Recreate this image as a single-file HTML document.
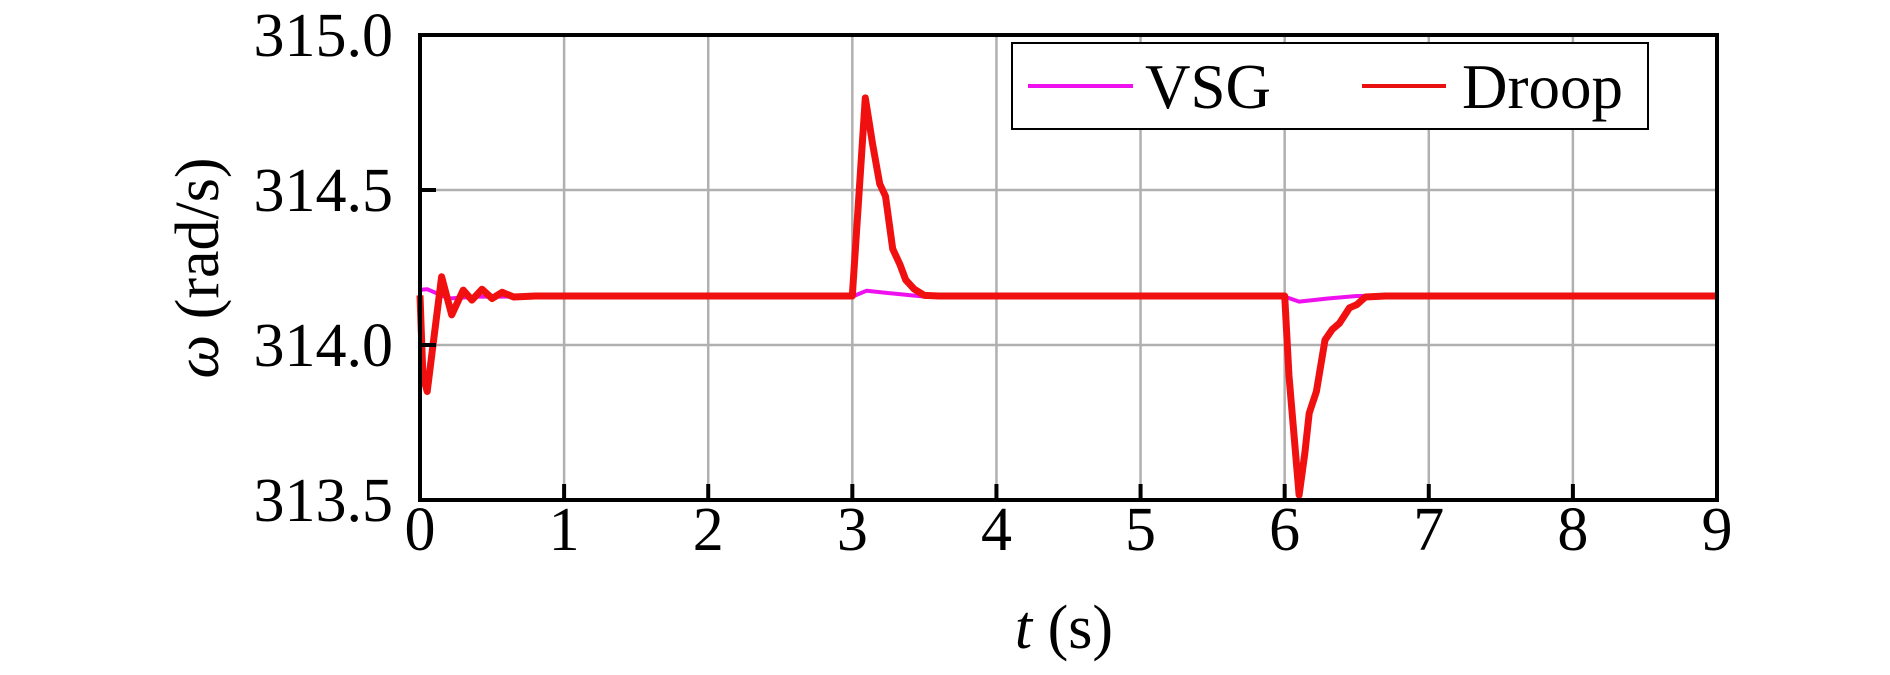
<!DOCTYPE html>
<html><head><meta charset="utf-8"><style>
html,body{margin:0;padding:0;background:#fff;}
svg text{font-family:"Liberation Serif",serif;fill:#000;}
</style></head><body>
<svg id="chart" width="1890" height="670" viewBox="0 0 1890 670" xmlns="http://www.w3.org/2000/svg">
<g id="grid"></g>
<g id="series"></g>
<g id="axes"></g>
<g>
<rect x="1012" y="43" width="636" height="86" fill="#fff" stroke="#000" stroke-width="2"/>
<line x1="1028" y1="86" x2="1133" y2="86" stroke="#ee11ee" stroke-width="4"/>
<text x="1145" y="108" font-size="63">VSG</text>
<line x1="1362" y1="86" x2="1446" y2="86" stroke="#e81010" stroke-width="4"/>
<text x="1462" y="108" font-size="63">Droop</text>
</g>
<text x="1064" y="648" font-size="62" text-anchor="middle"><tspan font-style="italic">t</tspan> (s)</text>
<text transform="translate(218,268) rotate(-90)" font-size="62" text-anchor="middle"><tspan font-style="italic">ω</tspan> (rad/s)</text>
</svg>
<script>
const xTicks=[0,1,2,3,4,5,6,7,8,9];
const yTicks=[313.5,314.0,314.5,315.0];
const yTickLabels=["313.5","314.0","314.5","315.0"];
const droopT=[0,0.02,0.05,0.09,0.15,0.22,0.3,0.36,0.43,0.5,0.57,0.65,0.8,3.0,3.02,3.09,3.14,3.19,3.23,3.28,3.33,3.37,3.43,3.5,3.6,6.0,6.03,6.1,6.14,6.17,6.22,6.28,6.33,6.38,6.45,6.5,6.56,6.7,9.0];
const droopV=[314.16,313.9,313.85,314.0,314.22,314.097,314.177,314.145,314.18,314.15,314.17,314.155,314.158,314.158,314.3,314.797,314.65,314.52,314.48,314.31,314.26,314.21,314.18,314.16,314.158,314.158,313.9,313.516,313.65,313.78,313.85,314.016,314.05,314.07,314.12,314.13,314.155,314.158,314.158];
const vsgT=[0,0.05,0.2,0.4,3.0,3.1,3.3,3.5,6.0,6.1,6.3,6.5,9.0];
const vsgV=[314.178,314.18,314.15,314.156,314.156,314.175,314.165,314.156,314.156,314.14,314.15,314.158,314.158];
const L=420,R=1717,T=35,B=500,NS='http://www.w3.org/2000/svg';
const xs=t=>L+(t-0)/(9-0)*(R-L);
const ys=v=>B-(v-313.5)/(315-313.5)*(B-T);
function mk(tag,at,parent){const e=document.createElementNS(NS,tag);for(const k in at)e.setAttribute(k,at[k]);parent.appendChild(e);return e;}
const grid=document.getElementById('grid'),axes=document.getElementById('axes'),series=document.getElementById('series');
xTicks.forEach(t=>{
 const g=mk('line',{x1:xs(t),y1:T,x2:xs(t),y2:B,stroke:'#b0b0b0','stroke-width':2.5},grid);
 
 
 const k=mk('line',{x1:xs(t),y1:B,x2:xs(t),y2:B-16,stroke:'#000','stroke-width':4},axes);
 
 
 const tx=mk('text',{x:xs(t),y:550,'font-size':62,'text-anchor':'middle'},axes);
 tx.textContent=String(t);
 
 
});
yTicks.forEach((v,i)=>{
 const g=mk('line',{x1:L,y1:ys(v),x2:R,y2:ys(v),stroke:'#b0b0b0','stroke-width':2.5},grid);
 
 
 const k=mk('line',{x1:L,y1:ys(v),x2:L+16,y2:ys(v),stroke:'#000','stroke-width':4},axes);
 
 
 const tx=mk('text',{x:393,y:ys(v)+21,'font-size':62,'text-anchor':'end'},axes);
 tx.textContent=yTickLabels[i];
 
 
});
function path(ts,vs){return ts.map((t,i)=>(i?'L':'M')+xs(t).toFixed(1)+','+ys(vs[i]).toFixed(1)).join('');}
const pv=mk('path',{d:path(vsgT,vsgV),fill:'none',stroke:'#ee11ee','stroke-width':4,'stroke-linejoin':'round'},series);


const pd=mk('path',{d:path(droopT,droopV),fill:'none',stroke:'#f01010','stroke-width':7,'stroke-linejoin':'round'},series);


const fr=mk('rect',{x:L,y:T,width:R-L,height:B-T,fill:'none',stroke:'#000','stroke-width':4},axes);


</script>
</body></html>
